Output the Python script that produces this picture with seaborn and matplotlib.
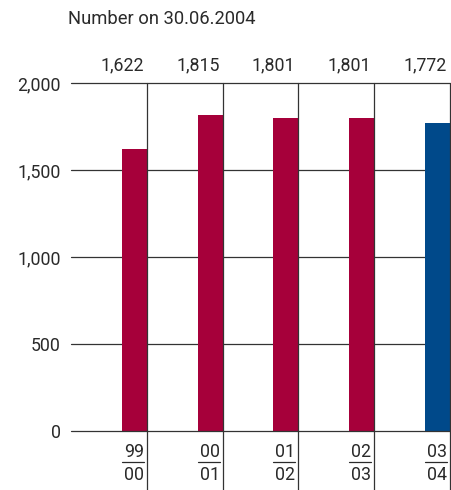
import matplotlib
matplotlib.use("Agg")
import matplotlib.pyplot as plt
import seaborn as sns

years = ["99/00", "00/01", "01/02", "02/03", "03/04"]
values = [1622, 1815, 1801, 1801, 1772]
value_labels = ["1,622", "1,815", "1,801", "1,801", "1,772"]
bar_colors = ["#A6003A", "#A6003A", "#A6003A", "#A6003A", "#00498A"]
yticks = [0, 500, 1000, 1500, 2000]
ytick_labels = ["0", "500", "1,000", "1,500", "2,000"]
title = "Number on 30.06.2004"

sns.set_style("white")
plt.rcParams['font.family'] = ['Roboto', 'DejaVu Sans']

W, H = 452, 490
fs = 12.8
txt_c = "#2a2a2a"
fig = plt.figure(figsize=(W / 100, H / 100), dpi=100)
ax_l, ax_r, ax_top, ax_bot = 71, 450, 83, 431
ax = fig.add_axes([ax_l / W, (H - ax_bot) / H, (ax_r - ax_l) / W, (ax_bot - ax_top) / H])

slot_px = (ax_r - ax_l) / 5.0
bw = 25 / slot_px
sns.barplot(x=years, y=values, hue=years, palette=bar_colors, width=bw,
            legend=False, ax=ax, saturation=1, zorder=2)
for p in ax.patches:
    p.set_x(p.get_x() + 0.5 - bw / 2)
    p.set_linewidth(0)

ax.set_xlim(-0.5, 4.5)
ax.set_ylim(0, 2000)
ax.set_yticks(yticks)
ax.set_yticklabels(ytick_labels, fontsize=fs, color=txt_c)
ax.tick_params(axis='y', length=0, pad=7.5)
ax.set_xticks([])
ax.set_xlabel("")
ax.set_ylabel("")
for s in ax.spines.values():
    s.set_visible(False)

line_c = "#333333"
for yv in yticks:
    ax.axhline(yv, color=line_c, lw=0.9, zorder=1 if yv else 3, clip_on=False)

ah = ax_bot - ax_top
xt = ax.get_xaxis_transform()
bottom_frac = -(H - ax_bot) / ah
for i in range(5):
    xr = i + 0.5
    ax.plot([xr, xr], [1, bottom_frac], color=line_c, lw=0.9, transform=xt,
            clip_on=False, zorder=3)
    xt_r = xr - 3 / slot_px
    ax.text(xt_r, 1 + 18 / ah, value_labels[i], transform=xt, ha="right",
            va="center", fontsize=fs, color=txt_c)
    num, den = years[i].split("/")
    ax.text(xt_r, -21 / ah, num, transform=xt, ha="right", va="center",
            fontsize=fs, color=txt_c)
    ax.text(xt_r, -44 / ah, den, transform=xt, ha="right", va="center",
            fontsize=fs, color=txt_c)
    ax.plot([xt_r - 22 / slot_px, xt_r], [-31 / ah, -31 / ah], color=txt_c,
            lw=0.9, transform=xt, clip_on=False)

fig.text(68 / W, 1 - 19 / H, title, ha="left", va="center", fontsize=13.2,
         color=txt_c)

fig.savefig("out.png", dpi=100)
